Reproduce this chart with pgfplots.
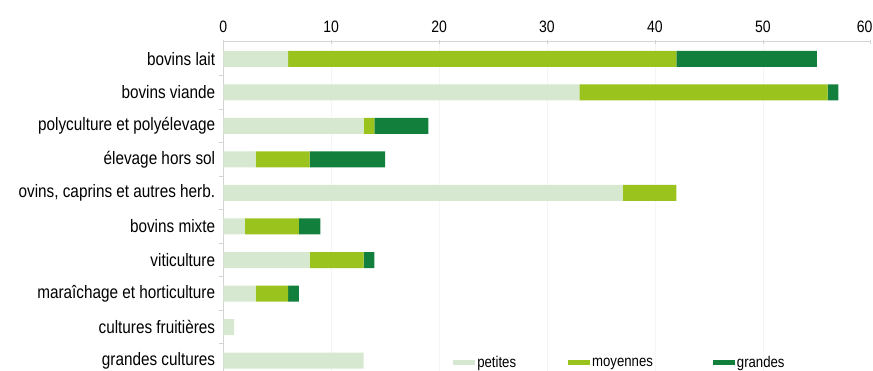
\documentclass[border=0pt]{standalone}
\usepackage{pgfplots}
\pgfplotsset{compat=1.18}
\usepackage{pgfplotstable}
\usepackage{fontspec}
\setmainfont{Liberation Sans}[FakeStretch=0.85]
\usetikzlibrary{calc}
\definecolor{cpet}{HTML}{D6E9D0}
\definecolor{cmoy}{HTML}{9BC31E}
\definecolor{cgra}{HTML}{12803C}
\definecolor{axgray}{HTML}{D4D4D4}

\pgfplotstableread{
y petites moyennes grandes
9 6 36 13
8 33 23 1
7 13 1 5
6 3 5 7
5 37 5 0
4 2 5 2
3 8 5 1
2 3 3 1
1 1 0 0
0 13 0 0
}\data

\begin{document}
\begin{tikzpicture}
\begin{axis}[name=ax, scale only axis, width=647.4pt, height=329.3pt,
  xbar stacked, bar width=16pt,
  xmin=0, xmax=60, ymin=-0.313, ymax=9.516,
  axis x line*=top, axis y line*=left,
  axis line style={draw=axgray, line width=0.8pt},
  xtick={0,10,...,50},
  extra x ticks={60},
  extra x tick style={xticklabel style={anchor=south east, xshift=2pt}},
  xmajorgrids, grid style={draw=gray!8, line width=0.6pt},
  extra x tick style={grid=none},
  tick align=center, major tick length=4pt,
  x tick style={draw=axgray, line width=0.6pt},
  xticklabel style={font=\fontsize{16.5}{20}\selectfont, inner sep=0pt, yshift=7pt},
  /pgf/number format/assume math mode=true,
  ytick={0,...,9},
  yticklabels={grandes cultures, cultures fruitières, maraîchage et horticulture, viticulture, bovins mixte, {ovins, caprins et autres herb.}, élevage hors sol, polyculture et polyélevage, bovins viande, bovins lait},
  y tick style={draw=none},
  yticklabel style={font=\fontsize{18}{21}\selectfont, inner sep=0pt, xshift=-6pt},
  extra y ticks={0.5,1.5,...,8.5},
  extra y tick labels={},
  extra y tick style={y tick style={draw=axgray, line width=0.6pt}, tick align=outside, major tick length=4pt},
  legend style={at={(0.355,0.025)}, anchor=west, legend columns=3, draw=none, fill=none, inner sep=0pt,
    font=\fontsize{15.5}{18}\selectfont,
    /tikz/column 2/.style={column sep=50pt},
    /tikz/column 4/.style={column sep=58pt}},
  legend cell align=left,
  legend image code/.code={\fill[#1] (0pt,-2.5pt) rectangle (22pt,2.5pt);},
]
\addplot[fill=cpet, draw=none] table[x=petites, y=y] {\data};
\addplot[fill=cmoy, draw=none] table[x=moyennes, y=y] {\data};
\addplot[fill=cgra, draw=none] table[x=grandes, y=y] {\data};
\legend{petites, moyennes, grandes}
\end{axis}
\pgfresetboundingbox
\path[use as bounding box] ($(ax.south west)+(-223.3pt,0)$) rectangle ($(ax.south west)+(649.7pt,371pt)$);
\end{tikzpicture}
\end{document}
